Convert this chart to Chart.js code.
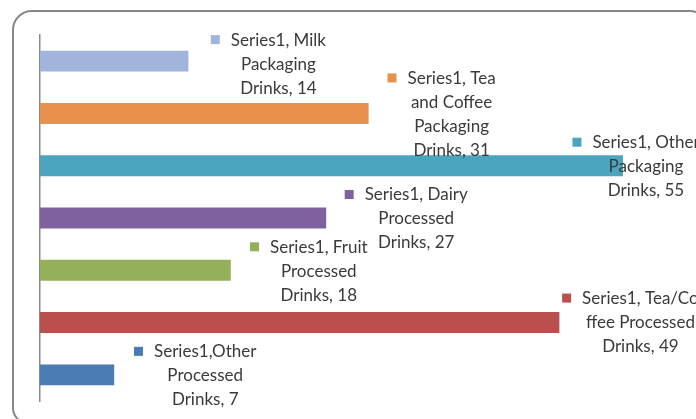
<!DOCTYPE html>
<html>
<head>
<meta charset="utf-8">
<script src="https://cdn.jsdelivr.net/npm/chart.js@4"></script>
<style>
  html, body { margin: 0; padding: 0; background: #fff; }
  canvas { display: block; }
</style>
</head>
<body>
<canvas id="myChart" width="696" height="419"></canvas>
<script>
// data
var seriesName = 'Series1';
var categories = ['Milk Packaging Drinks', 'Tea and Coffee Packaging Drinks', 'Other Packaging Drinks',
  'Dairy Processed Drinks', 'Fruit Processed Drinks', 'Tea/Coffee Processed Drinks', 'Other Processed Drinks'];
var values = [14, 31, 55, 27, 18, 49, 7];
var separators = [', ', ', ', ', ', ', ', ', ', ', ', ','];
var barColors = ['#A0B4DC', '#E8914A', '#4BA5BC', '#7E62A0', '#94B159', '#B9504D', '#4A7BB3'];

// label layout (line lengths in chars, offset from bar end / bar centre)
var lineLens = [[13, 9], [12, 10, 9], [14, 9], [14, 9], [14, 9], [15, 14], [13, 9]];
var labelDx = [90, 83, 23, 90, 88, 81, 91];
var labelDy = [-21, -35, -23, -23, -23, -24, -23];

function wrapLabel(i) {
  var s = seriesName + separators[i] + categories[i] + ', ' + values[i];
  var out = [];
  lineLens[i].forEach(function(n) {
    out.push(s.slice(0, n).trim());
    s = s.slice(n).trim();
  });
  out.push(s);
  return out;
}

var frame = {
  id: 'frame',
  beforeDraw: function(chart) {
    var c = chart.ctx;
    c.save();
    c.fillStyle = '#fff';
    c.fillRect(0, 0, chart.width, chart.height);
    c.strokeStyle = '#878787';
    c.lineWidth = 2;
    c.beginPath();
    c.roundRect(13, 11, 692, 412, [19, 15, 15, 15]);
    c.stroke();
    c.restore();
  }
};

var dataLabels = {
  id: 'dataLabels',
  afterDatasetsDraw: function(chart) {
    var c = chart.ctx;
    var meta = chart.getDatasetMeta(0);
    c.save();
    c.font = '17px Lato';
    c.textBaseline = 'middle';
    c.textAlign = 'center';
    meta.data.forEach(function(bar, i) {
      var lines = wrapLabel(i);
      var cx = bar.x + labelDx[i];
      var y1 = bar.y + labelDy[i];
      c.fillStyle = '#3a3a3a';
      lines.forEach(function(t, k) {
        c.fillText(t, cx, y1 + k * 24);
      });
      var w = c.measureText(lines[0]).width;
      c.fillStyle = barColors[i];
      c.fillRect(cx - w / 2 - 20, y1 - 5, 9, 9);
    });
    c.restore();
  }
};

new Chart(document.getElementById('myChart'), {
  type: 'bar',
  data: {
    labels: categories,
    datasets: [{
      label: seriesName,
      data: values,
      backgroundColor: barColors,
      barPercentage: 0.4,
      categoryPercentage: 1.0
    }]
  },
  options: {
    indexAxis: 'y',
    responsive: false,
    animation: false,
    layout: { padding: { left: 40, right: 20, top: 35, bottom: 18 } },
    plugins: { legend: { display: false }, tooltip: { enabled: false } },
    scales: {
      x: { min: 0, max: 60, display: false },
      y: {
        ticks: { display: false },
        grid: { display: false, drawTicks: false },
        border: { color: '#8A8A8A', width: 1.5 }
      }
    }
  },
  plugins: [frame, dataLabels]
});
</script>
</body>
</html>
